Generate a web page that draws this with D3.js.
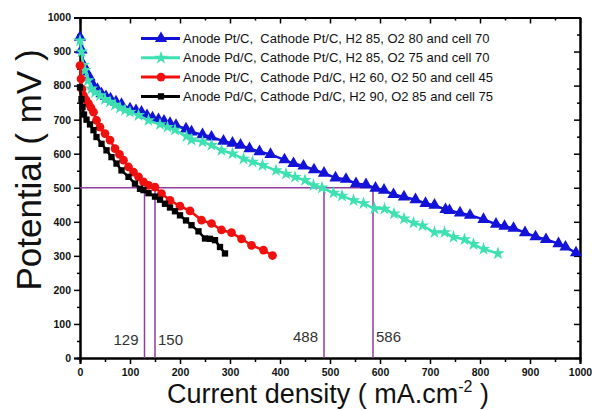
<!DOCTYPE html>
<html lang="en">
<head>
  <meta charset="utf-8">
  <title>Polarization curves</title>
  <script src="https://d3js.org/d3.v7.min.js"></script>
  <style>
  body { margin: 0; background: #fff; }
  text { font-family: "Liberation Sans", Arial, sans-serif; }
  .tick text { font-weight: bold; font-size: 10.5px; fill: #111; }
  </style>
</head>
<body>
<script>
// curves: [current density, potential]
var ptPt = [[0,942],[3,905],[7,860],[12,840],[19,825],[27,800],[35,788],[43,776],[52,768],[61,761],[72,752],[83,745],[100,732],[112,727],[123,722],[134,712],[145,705],[157,700],[168,696],[180,689],[192,683],[212,673],[223,664],[245,656],[263,649],[287,637],[305,631],[321,625],[339,615],[359,606],[381,598],[409,582],[427,571],[447,564],[468,553],[488,543],[511,529],[532,525],[552,512],[572,509],[591,499],[608,493],[627,480],[648,473],[671,465],[691,454],[709,449],[731,436],[739,433],[760,426],[780,419],[807,407],[832,393],[849,387],[867,381],[890,368],[911,356],[932,348],[957,336],[971,326],[992,309]];
var pdPt = [[0,932],[3,900],[6,860],[10,845],[16,815],[23,791],[30,780],[40,771],[50,760],[60,752],[70,743],[80,735],[90,728],[100,722],[117,713],[137,698],[160,686],[175,678],[190,670],[213,651],[223,641],[245,635],[263,625],[283,610],[305,600],[327,585],[345,576],[365,566],[392,551],[412,541],[430,531],[450,522],[467,507],[484,500],[507,485],[524,476],[547,463],[567,454],[589,439],[609,438],[628,424],[648,409],[667,397],[685,389],[709,369],[729,369],[747,355],[769,348],[787,334],[807,320],[836,307]];
var ptPd = [[0,859],[2,820],[4,790],[7,771],[12,758],[17,747],[22,735],[27,722],[33,698],[40,678],[50,659],[60,640],[70,615],[79,598],[87,581],[97,561],[107,546],[117,532],[127,517],[137,507],[150,502],[163,483],[180,463],[200,446],[220,432],[243,405],[263,395],[283,376],[303,368],[323,350],[343,331],[367,317],[385,301]];
var pdPd = [[0,795],[3,760],[5,737],[8,715],[13,700],[20,686],[27,669],[33,649],[43,629],[53,610],[63,590],[73,571],[83,551],[97,532],[110,512],[120,497],[127,493],[137,484],[150,474],[160,465],[170,453],[180,442],[190,431],[200,419],[212,404],[223,390],[237,372],[250,351],[260,350],[270,346],[280,326],[290,307]];

var seriesNames = [
  "Anode Pt/C,  Cathode Pt/C, H2 85, O2 80 and cell 70",
  "Anode Pd/C, Cathode Pt/C, H2 85, O2 75 and cell 70",
  "Anode Pt/C,  Cathode Pd/C, H2 60, O2 50 and cell 45",
  "Anode Pd/C, Cathode Pd/C, H2 90, O2 85 and cell 75"
];
var seriesColors = ["#1212d8", "#3fe0b2", "#f01010", "#000000"];

// crossings of the 500 mV line
var marks500 = [129, 150, 488, 586];
var refPotential = 500;

var xTicks = d3.range(0, 1001, 100);
var yTicks = d3.range(0, 1001, 100);

var w = 592, h = 410;
var svg = d3.select("body").append("svg").attr("width", w).attr("height", h);

var x = d3.scaleLinear().domain([0, 1000]).range([80, 580]);
var y = d3.scaleLinear().domain([0, 1000]).range([358, 17.5]);

var minor = d3.range(50, 1000, 100);
var fmt = d3.format("d");

// axes: left/bottom ticks outward, top/right inward
function axisGroup(axis, tr) {
  var g = svg.append("g").attr("transform", tr).call(axis);
  g.select(".domain").attr("stroke-width", 2);
  g.selectAll(".tick line").attr("stroke-width", 1.5);
  return g;
}
axisGroup(d3.axisBottom(x).tickValues(xTicks).tickSize(6).tickPadding(5).tickFormat(fmt), "translate(0,358)");
axisGroup(d3.axisBottom(x).tickValues(minor).tickSize(4).tickFormat(""), "translate(0,358)");
axisGroup(d3.axisLeft(y).tickValues(yTicks).tickSize(6).tickPadding(3).tickFormat(fmt), "translate(80,0)");
axisGroup(d3.axisLeft(y).tickValues(minor).tickSize(3).tickFormat(""), "translate(80,0)");
axisGroup(d3.axisTop(x).tickValues(xTicks).tickSizeInner(-6).tickSizeOuter(0).tickFormat(""), "translate(0,17.5)");
axisGroup(d3.axisTop(x).tickValues(minor).tickSizeInner(-3).tickSizeOuter(0).tickFormat(""), "translate(0,17.5)");
axisGroup(d3.axisRight(y).tickValues(yTicks).tickSizeInner(-6).tickSizeOuter(0).tickFormat(""), "translate(580,0)");
axisGroup(d3.axisRight(y).tickValues(minor).tickSizeInner(-3).tickSizeOuter(0).tickFormat(""), "translate(580,0)");

// purple guide lines
var purple = "#8e3c9e";
svg.append("line")
  .attr("x1", x(0)).attr("x2", x(586))
  .attr("y1", y(refPotential)).attr("y2", y(refPotential))
  .attr("stroke", purple).attr("stroke-width", 1.5);
svg.selectAll(".vmark").data(marks500).enter().append("line")
  .attr("x1", function(d) { return x(d); }).attr("x2", function(d) { return x(d); })
  .attr("y1", y(0)).attr("y2", y(refPotential))
  .attr("stroke", purple).attr("stroke-width", 1.5);

var markLabel = [
  {v: 129, dx: -6, anchor: "end", dy: 345},
  {v: 150, dx: 3, anchor: "start", dy: 345},
  {v: 488, dx: -6, anchor: "end", dy: 342},
  {v: 586, dx: 3, anchor: "start", dy: 342}
];
svg.selectAll(".mlabel").data(markLabel).enter().append("text")
  .attr("x", function(d) { return x(d.v) + d.dx; })
  .attr("y", function(d) { return d.dy; })
  .attr("text-anchor", function(d) { return d.anchor; })
  .attr("font-size", 15).attr("fill", "#333")
  .text(function(d) { return d.v; });

// curves
var allSeries = [ptPt, pdPt, ptPd, pdPd];
var symbols = [d3.symbolTriangle, d3.symbolStar, d3.symbolCircle, d3.symbolSquare];
var symSize = [65, 55, 60, 40];
var line = d3.line().x(function(d) { return x(d[0]); }).y(function(d) { return y(d[1]); });

allSeries.forEach(function(data, i) {
  svg.append("path").datum(data)
    .attr("d", line).attr("fill", "none")
    .attr("stroke", seriesColors[i]).attr("stroke-width", 2.5);
  svg.selectAll(".m" + i).data(data).enter().append("path")
    .attr("transform", function(d) { return "translate(" + x(d[0]) + "," + y(d[1]) + ")"; })
    .attr("d", d3.symbol().type(symbols[i]).size(symSize[i]))
    .attr("fill", seriesColors[i]);
});

// legend
var legend = svg.append("g").selectAll("g").data(seriesNames).enter().append("g")
  .attr("transform", function(d, i) { return "translate(141," + (38.5 + i * 19.3) + ")"; });
legend.append("line").attr("x1", 0).attr("x2", 39)
  .attr("stroke", function(d, i) { return seriesColors[i]; }).attr("stroke-width", 3);
legend.append("path")
  .attr("transform", "translate(20,0)")
  .attr("d", function(d, i) { return d3.symbol().type(symbols[i]).size(symSize[i])(); })
  .attr("fill", function(d, i) { return seriesColors[i]; });
legend.append("text").attr("x", 42).attr("y", 4.5)
  .attr("font-size", 13).attr("fill", "#111")
  .style("white-space", "pre")
  .text(function(d) { return d; });

// axis titles
svg.append("text")
  .attr("transform", "translate(41,170) rotate(-90)")
  .attr("text-anchor", "middle")
  .attr("font-size", 35).attr("fill", "#111")
  .text("Potential ( mV )");

var xt = svg.append("text")
  .attr("x", 328).attr("y", 403)
  .attr("text-anchor", "middle")
  .attr("font-size", 27).attr("fill", "#111");
xt.append("tspan").text("Current density ( mA.cm");
xt.append("tspan").attr("font-size", 16).attr("dy", -11).text("-2");
xt.append("tspan").attr("dy", 11).text(" )");
</script>
</body>
</html>
